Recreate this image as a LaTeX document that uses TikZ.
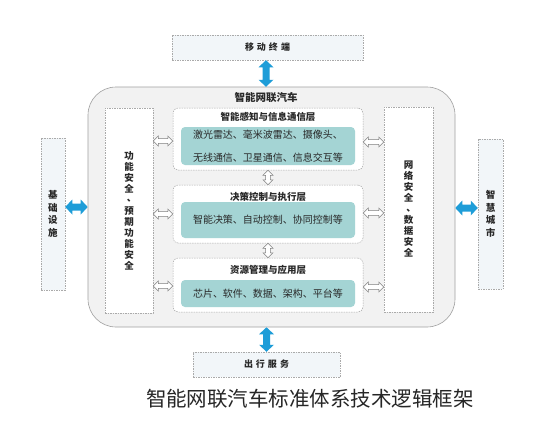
\documentclass[tikz,border=0pt]{standalone}
\usepackage{fontspec}
\setmainfont{Noto Sans CJK SC}
\usetikzlibrary{calc}
\definecolor{tealbox}{RGB}{164,212,212}
\definecolor{carbg}{RGB}{242,242,242}
\definecolor{carline}{RGB}{160,160,160}
\definecolor{dashline}{RGB}{170,170,170}
\definecolor{outerbg}{RGB}{242,246,249}
\definecolor{bluearr}{RGB}{30,157,216}
\definecolor{txt}{RGB}{40,40,40}
\newcommand{\vcomma}{\makebox[9.5pt][l]{\kern2.5pt\raisebox{1.2pt}{、}}}
\tikzset{
  harr/.style n args={3}{to path={let \p1=(\tikztostart), \p2=(\tikztotarget) in
    (\x1,\y1) -- (\x1+#1,\y1+#2) -- (\x1+#1,\y1+#3) -- (\x2-#1,\y1+#3) -- (\x2-#1,\y1+#2)
    -- (\x2,\y1) -- (\x2-#1,\y1-#2) -- (\x2-#1,\y1-#3) -- (\x1+#1,\y1-#3) -- (\x1+#1,\y1-#2) -- cycle}},
  varr/.style n args={3}{to path={let \p1=(\tikztostart), \p2=(\tikztotarget) in
    (\x1,\y1) -- (\x1+#2,\y1-#1) -- (\x1+#3,\y1-#1) -- (\x1+#3,\y2+#1) -- (\x1+#2,\y2+#1)
    -- (\x1,\y2) -- (\x1-#2,\y2+#1) -- (\x1-#3,\y2+#1) -- (\x1-#3,\y1-#1) -- (\x1-#2,\y1-#1) -- cycle}},
  hollowh/.style={draw=gray, fill=white, line width=0.5pt, harr={5pt}{5pt}{2.3pt}},
  hollowv/.style={draw=gray, fill=white, line width=0.5pt, varr={5pt}{5pt}{2.3pt}},
  blueh/.style={fill=bluearr, draw=none, harr={7pt}{7.5pt}{3.5pt}},
  bluev/.style={fill=bluearr, draw=none, varr={7pt}{7.5pt}{3.5pt}},
  dbox/.style={draw=dashline, dash pattern=on 1.5pt off 1pt, line width=0.5pt, inner sep=0pt},
  outer/.style={dbox, fill=outerbg, text=txt},
  layer/.style={dbox, fill=white, rounded corners=5pt},
  tealb/.style={fill=tealbox, rounded corners=4pt, inner sep=0pt, text=txt,
    font=\fontsize{10}{23.5}\selectfont, align=center},
  ltitle/.style={font=\bfseries\fontsize{9.5}{11}\selectfont, text=txt},
  vtxt/.style={align=center, text=txt, font=\bfseries\fontsize{9.5}{11}\selectfont},
}
\begin{document}
\begin{tikzpicture}[x=1pt,y=-1pt]
\useasboundingbox[fill=white] (0,0) rectangle (542,434);
% outer boxes
\node[outer, minimum width=191pt, minimum height=25pt] (mobile) at (267.5,47.5)
  {\bfseries\fontsize{9}{10}\selectfont 移\hspace{3pt}动\hspace{3pt}终\hspace{3pt}端};
\node[outer, minimum width=147pt, minimum height=25pt] (service) at (266.5,364.5)
  {\bfseries\fontsize{9}{10}\selectfont 出\hspace{3pt}行\hspace{3pt}服\hspace{3pt}务};
\node[outer, minimum width=24pt, minimum height=152pt, vtxt, font=\bfseries\fontsize{9.5}{12.5}\selectfont] (infra) at (53,214) {基\\础\\设\\施};
\node[outer, minimum width=25pt, minimum height=150pt, vtxt, font=\bfseries\fontsize{9.5}{12.5}\selectfont] (city) at (490.5,214) {智\\慧\\城\\市};
% car
\node[draw=carline, fill=carbg, line width=0.6pt, rounded corners=28pt,
  minimum width=367pt, minimum height=240pt] (car) at (271.5,207) {};
\node[font=\bfseries\fontsize{10.5}{12}\selectfont, text=txt] (cartitle) at (266,97.5) {智能网联汽车};
% side columns
\node[dbox, fill=white, minimum width=48pt, minimum height=205pt, vtxt, font=\bfseries\fontsize{9.5}{11}\selectfont] (L) at (129,210.5)
  {功\\能\\安\\全\\\vcomma\\预\\期\\功\\能\\安\\全};
\node[dbox, fill=white, minimum width=49pt, minimum height=205pt, vtxt, font=\bfseries\fontsize{9.5}{11}\selectfont] (R) at (408.5,209.5)
  {网\\络\\安\\全\\\vcomma\\数\\据\\安\\全};
% layers
\node[layer, minimum width=190pt, minimum height=62pt] (l1) at (268,139) {};
\node[ltitle] (l1t) at (268,117) {智能感知与信息通信层};
\node[tealb, minimum width=174pt, minimum height=38pt] (t1) at (268,146)
  {激光雷达、毫米波雷达、摄像头、\\无线通信、卫星通信、信息交互等};
\node[layer, minimum width=190pt, minimum height=58pt] (l2) at (268,214) {};
\node[ltitle] (l2t) at (268,197) {决策控制与执行层};
\node[tealb, minimum width=174pt, minimum height=36pt] (t2) at (268,220)
  {智能决策、自动控制、协同控制等};
\node[layer, minimum width=190pt, minimum height=54pt] (l3) at (268,285) {};
\node[ltitle] (l3t) at (268,270) {资源管理与应用层};
\node[tealb, minimum width=174pt, minimum height=27pt] (t3) at (268,293.5)
  {芯片、软件、数据、架构、平台等};
% hollow arrows
\draw[hollowh] (L.east |- 0,141) to (l1.west |- 0,141);
\draw[hollowh] (L.east |- 0,214) to (l2.west |- 0,214);
\draw[hollowh] (L.east |- 0,286) to (l3.west |- 0,286);
\draw[hollowh] (l1.east |- 0,142) to (R.west |- 0,142);
\draw[hollowh] (l2.east |- 0,213) to (R.west |- 0,213);
\draw[hollowh] (l3.east |- 0,287) to (R.west |- 0,287);
\draw[hollowv] (l1.south) to (l2.north);
\draw[hollowv] (l2.south) to (l3.north);
% blue arrows
\draw[bluev] ($(mobile.south)+(-1.5,0)$) to ($(mobile.south -| 266,0)+(0,26.5)$);
\draw[bluev] (service.north |- car.south) to (service.north);
\draw[blueh] (infra.east |- 0,207) to (car.west |- 0,207);
\draw[blueh] (car.east |- 0,208) to (city.west |- 0,208);
% caption
\node[font=\fontsize{20.5}{22}\selectfont, text=black!85] (caption) at (310,399) {智能网联汽车标准体系技术逻辑框架};
\end{tikzpicture}
\end{document}
